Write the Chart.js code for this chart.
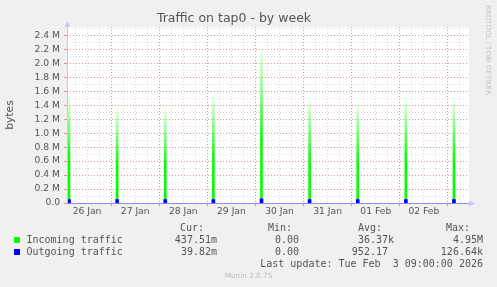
<!DOCTYPE html>
<html>
<head>
<meta charset="utf-8">
<title>Traffic on tap0 - by week</title>
<script src="https://cdn.jsdelivr.net/npm/chart.js@4.4.1/dist/chart.umd.min.js"></script>
<style>
  html, body { margin: 0; padding: 0; background: #f0f0f0; }
  #wrap { position: relative; width: 497px; height: 287px; background: #f0f0f0; overflow: hidden; }
  #chart { position: absolute; left: 0; top: 0; }
  .mono { position: absolute; font-family: 'DejaVu Sans Mono', monospace; font-size: 10px; line-height: 12px; color: #555; white-space: pre; }
  .swatch { position: absolute; width: 6px; height: 6px; }
  #rrd { position: absolute; left: 484px; top: 5px; writing-mode: vertical-rl; font-family: 'DejaVu Sans', sans-serif; font-size: 7px; line-height: 8px; color: #c4c4c4; white-space: nowrap; }
  #munin { position: absolute; left: 0; width: 497px; top: 271px; text-align: center; font-family: 'DejaVu Sans', sans-serif; font-size: 7.3px; line-height: 10px; color: #bdbdbd; }
</style>
</head>
<body>
<div id="wrap">
  <canvas id="chart" width="497" height="287"></canvas>
  <div id="rrd">RRDTOOL / TOBI OETIKER</div>
  <div id="legend"></div>
  <div id="munin">Munin 2.0.75</div>
</div>
<script>
(function () {
  'use strict';

  // ==================== Data ====================
  // hours counted from 26 Jan 00:00, values in M (millions of bytes)
  const spikeHours = [3, 27, 51, 75, 99, 123, 147, 171, 195];
  const incomingPeaks = [1.53, 1.36, 1.34, 1.53, 2.20, 1.48, 1.42, 1.50, 1.50];
  const outgoingPeaks = [0.05, 0.05, 0.05, 0.05, 0.06, 0.05, 0.05, 0.05, 0.05];

  const dayTicks = [12, 36, 60, 84, 108, 132, 156, 180];
  const dayLabels = ['26 Jan', '27 Jan', '28 Jan', '29 Jan', '30 Jan', '31 Jan', '01 Feb', '02 Feb'];
  const midnightTicks = [24, 48, 72, 96, 120, 144, 168, 192];
  const sixHourTicks = [6, 12, 18, 30, 36, 42, 54, 60, 66, 78, 84, 90, 102, 108, 114,
    126, 132, 138, 150, 156, 162, 174, 180, 186, 198];

  const yTicks = [0, 0.2, 0.4, 0.6, 0.8, 1.0, 1.2, 1.4, 1.6, 1.8, 2.0, 2.2, 2.4];
  const yLabels = ['0.0', '0.2 M', '0.4 M', '0.6 M', '0.8 M', '1.0 M', '1.2 M',
    '1.4 M', '1.6 M', '1.8 M', '2.0 M', '2.2 M', '2.4 M'];
  const yMinorTicks = [0.1, 0.3, 0.5, 0.7, 0.9, 1.1, 1.3, 1.5, 1.7, 1.9, 2.1, 2.3, 2.5];

  const legendNames = ['Incoming traffic', 'Outgoing traffic'];
  const legendCur = ['437.51m', '39.82m'];
  const legendMin = ['0.00', '0.00'];
  const legendAvg = ['36.37k', '952.17 '];
  const legendMax = ['4.95M', '126.64k'];
  const lastUpdate = 'Last update: Tue Feb  3 09:00:00 2026';

  // ==================== Style ====================
  const X_MIN = 2;
  const X_MAX = 202;
  const Y_MAX = 2.52;
  const incomingColor = '#00ff00';
  const outgoingColor = '#0000ff';
  const majorGrid = 'rgb(238, 140, 140)';
  const minorGrid = '#dcdcdc';
  const textColor = '#555555';

  // ==================== Helpers ====================
  function fixedTicks(values) {
    return function (scale) {
      scale.ticks = values.map(v => ({ value: v }));
    };
  }

  function spikeFill(ctx) {
    const chart = ctx.chart;
    const y = chart.scales.y;
    if (!y || !ctx.raw) return incomingColor;
    const base = y.getPixelForValue(0);
    const top = y.getPixelForValue(ctx.raw.y);
    if (!isFinite(base) || !isFinite(top) || base === top) return incomingColor;
    const g = chart.ctx.createLinearGradient(0, base, 0, top);
    g.addColorStop(0, 'rgba(0, 255, 0, 1)');
    g.addColorStop(0.42, 'rgba(0, 250, 0, 0.95)');
    g.addColorStop(1, 'rgba(0, 255, 0, 0.06)');
    return g;
  }

  const plotBackground = {
    id: 'plotBackground',
    beforeDraw(chart) {
      const { ctx, chartArea: a } = chart;
      ctx.save();
      ctx.fillStyle = '#ffffff';
      ctx.fillRect(a.left, a.top, a.right - a.left + 1, a.bottom - a.top);
      ctx.restore();
    }
  };

  const axisArrows = {
    id: 'axisArrows',
    afterDraw(chart) {
      const { ctx, chartArea: a } = chart;
      const x0 = Math.round(a.left) + 0.5;
      const y0 = Math.round(a.bottom) + 0.5;
      ctx.save();
      ctx.fillStyle = '#c4c4ff';
      ctx.beginPath();
      ctx.moveTo(x0 - 3, a.top);
      ctx.lineTo(x0 + 3, a.top);
      ctx.lineTo(x0, a.top - 5.5);
      ctx.closePath();
      ctx.fill();
      ctx.strokeStyle = '#8c8cff';
      ctx.beginPath();
      ctx.moveTo(a.right, y0);
      ctx.lineTo(a.right + 2, y0);
      ctx.stroke();
      ctx.fillStyle = '#c4c4ff';
      ctx.beginPath();
      ctx.moveTo(a.right + 1, y0 - 3);
      ctx.lineTo(a.right + 1, y0 + 3);
      ctx.lineTo(a.right + 7, y0);
      ctx.closePath();
      ctx.fill();
      ctx.restore();
    }
  };

  // ==================== Chart ====================
  const tickFont = { family: 'DejaVu Sans', size: 9.2 };

  function xAxis(ticks, extra) {
    return Object.assign({
      type: 'linear', position: 'bottom', min: X_MIN, max: X_MAX, offset: false,
      afterBuildTicks: fixedTicks(ticks)
    }, extra);
  }

  new Chart(document.getElementById('chart'), {
    type: 'bar',
    data: {
      datasets: [
        {
          label: 'Outgoing traffic',
          data: spikeHours.map((h, i) => ({ x: h, y: outgoingPeaks[i] })),
          xAxisID: 'x',
          yAxisID: 'y',
          backgroundColor: outgoingColor,
          borderWidth: 0,
          barThickness: 3,
          grouped: false,
          order: 0
        },
        {
          label: 'Incoming traffic',
          data: spikeHours.map((h, i) => ({ x: h, y: incomingPeaks[i] })),
          xAxisID: 'x',
          yAxisID: 'y',
          backgroundColor: spikeFill,
          borderWidth: 0,
          barThickness: 2,
          grouped: false,
          order: 1
        }
      ]
    },
    options: {
      responsive: false,
      devicePixelRatio: 1,
      animation: false,
      events: [],
      layout: { padding: { left: 0, right: 29, top: 0, bottom: 0 } },
      plugins: {
        legend: { display: false },
        tooltip: { enabled: false },
        title: {
          display: true,
          text: 'Traffic on tap0 - by week',
          color: textColor,
          font: { family: 'DejaVu Sans', size: 12.5, weight: 'normal', lineHeight: 1.2 },
          padding: { top: 11, bottom: 1 }
        }
      },
      scales: {
        yMinor: {
          type: 'linear', position: 'left', min: 0, max: Y_MAX,
          afterBuildTicks: fixedTicks(yMinorTicks),
          afterFit: s => { s.width = 0; },
          ticks: { display: false },
          grid: { color: minorGrid, drawTicks: false },
          border: { display: false, dash: [1, 2] }
        },
        yMajor: {
          type: 'linear', position: 'left', min: 0, max: Y_MAX,
          afterBuildTicks: fixedTicks(yTicks),
          afterFit: s => { s.width = 0; },
          ticks: { display: false },
          grid: { color: majorGrid, drawTicks: true, tickLength: 3, tickColor: majorGrid },
          border: { display: false, dash: [1, 2] }
        },
        y: {
          type: 'linear', position: 'left', min: 0, max: Y_MAX,
          afterBuildTicks: fixedTicks(yTicks),
          afterFit: s => { s.width = 67; },
          ticks: {
            color: textColor, font: tickFont, padding: 7,
            callback: (v, i) => yLabels[i]
          },
          grid: { display: false, drawTicks: false },
          border: { display: true, color: '#c4c4ff', width: 1, z: 1 },
          title: {
            display: true, text: 'bytes', color: textColor,
            font: { family: 'DejaVu Sans', size: 10.8 },
            padding: { top: 4, bottom: 0 }
          }
        },
        xMinor: xAxis(sixHourTicks, {
          afterFit: s => { s.height = 0; },
          ticks: { display: false },
          grid: { color: minorGrid, drawTicks: false, offset: false },
          border: { display: false, dash: [1, 2] }
        }),
        xMajor: xAxis(midnightTicks, {
          afterFit: s => { s.height = 0; },
          ticks: { display: false },
          grid: { color: majorGrid, drawTicks: true, tickLength: 3, tickColor: majorGrid, offset: false },
          border: { display: false, dash: [1, 2] }
        }),
        x: xAxis(dayTicks, {
          afterFit: s => { s.height = 84; },
          ticks: {
            color: textColor, font: tickFont, padding: 3,
            autoSkip: false, maxRotation: 0,
            callback: (v, i) => dayLabels[i]
          },
          grid: { display: false, drawTicks: false, offset: false },
          border: { display: true, color: '#8c8cff', width: 1, z: 1 }
        })
      }
    },
    plugins: [plotBackground, axisArrows]
  });

  // ==================== Legend ====================
  const legend = document.getElementById('legend');

  function addText(text, opts) {
    const el = document.createElement('div');
    el.className = 'mono';
    el.textContent = text;
    el.style.top = (opts.cy - 6) + 'px';
    if (opts.left !== undefined) el.style.left = opts.left + 'px';
    if (opts.right !== undefined) el.style.right = (497 - opts.right) + 'px';
    legend.appendChild(el);
  }

  function addSwatch(color, top) {
    const el = document.createElement('div');
    el.className = 'swatch';
    el.style.left = '14px';
    el.style.top = top + 'px';
    el.style.background = color;
    legend.appendChild(el);
  }

  addText('Cur:', { cy: 228, right: 204 });
  addText('Min:', { cy: 228, right: 292 });
  addText('Avg:', { cy: 228, right: 382 });
  addText('Max:', { cy: 228, right: 470 });

  const rowY = [240, 251.5];
  const swatchY = [237, 249];
  const swatchColors = [incomingColor, outgoingColor];

  legendNames.forEach((name, i) => {
    addSwatch(swatchColors[i], swatchY[i]);
    addText(name, { cy: rowY[i], left: 26.5 });
    addText(legendCur[i], { cy: rowY[i], right: 217 });
    addText(legendMin[i], { cy: rowY[i], right: 299 });
    addText(legendAvg[i], { cy: rowY[i], right: 394 });
    addText(legendMax[i], { cy: rowY[i], right: 483 });
  });

  addText(lastUpdate, { cy: 263.5, right: 483 });
})();
</script>
</body>
</html>
